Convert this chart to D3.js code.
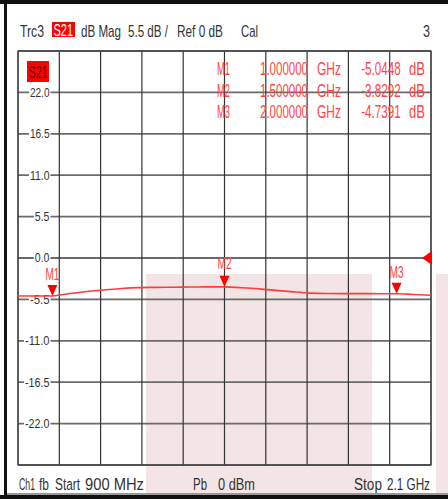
<!DOCTYPE html>
<html>
<head>
<meta charset="utf-8">
<script src="https://cdn.jsdelivr.net/npm/d3@7"></script>
<style>
  html, body { margin: 0; padding: 0; background: #fff; }
  svg { display: block; }
  text { font-family: "Liberation Sans Narrow", "Liberation Sans", Arial, sans-serif; }
</style>
</head>
<body>
<svg id="chart" width="448" height="499"></svg>
<script>
// ---- data ----
const freqGHz = [0.90, 0.95, 1.00, 1.05, 1.10, 1.15, 1.20, 1.25, 1.30, 1.35, 1.40, 1.45, 1.50,
                 1.55, 1.60, 1.65, 1.70, 1.75, 1.80, 1.85, 1.90, 1.95, 2.00, 2.05, 2.10];
const traceDb = [-5.05, -5.05, -5.04, -4.72, -4.45, -4.25, -4.05, -3.93, -3.90, -3.88, -3.86, -3.84, -3.83,
                 -3.95, -4.10, -4.30, -4.50, -4.66, -4.72, -4.73, -4.73, -4.74, -4.74, -4.85, -4.95];
const markerNames = ["M1", "M2", "M3"];
const markerFreq = [1.0, 1.5, 2.0];
const markerDb = [-5.0448, -3.8292, -4.7391];
const markerFreqLabels = ["1.000000", "1.500000", "2.000000"];
const markerDbLabels = ["-5.0448", "-3.8292", "-4.7391"];
const yTickValues = [22.0, 16.5, 11.0, 5.5, 0.0, -5.5, -11.0, -16.5, -22.0];
const yTickLabels = ["22.0", "16.5", "11.0", "5.5", "0.0", "-5.5", "-11.0", "-16.5", "-22.0"];
const xStart = 0.9, xStop = 2.1, xDivs = 10;
const yTop = 27.5, yBottom = -27.5, yDivs = 10;

// ---- drawing ----
const svg = d3.select("#chart");
const x = d3.scaleLinear().domain([xStart, xStop]).range([18, 431]);
const y = d3.scaleLinear().domain([yBottom, yTop]).range([465, 51]);

// text squeezed horizontally to a given width (condensed instrument font look)
function txt(g, xPos, yPos, s, width, opts = {}) {
  const anchor = opts.anchor || "start";
  const t = g.append("text")
    .attr("x", 0).attr("y", 0)
    .attr("font-size", opts.size || 15)
    .attr("fill", opts.fill || "#333")
    .attr("text-anchor", anchor)
    .text(s);
  let sx = 1;
  if (width) {
    const nat = t.node().getComputedTextLength();
    if (nat > 0) sx = width / nat;
  }
  t.attr("transform", `translate(${xPos},${yPos}) scale(${sx},1)`);
  return t;
}

// background
svg.append("rect").attr("width", 448).attr("height", 499).attr("fill", "#fff");

// pink overlays
svg.append("rect").attr("x", 146).attr("y", 274).attr("width", 226).attr("height", 221).attr("fill", "#f3e5e5");
svg.append("rect").attr("x", 436).attr("y", 274).attr("width", 12).attr("height", 221).attr("fill", "#f3e5e5");

// outer frame
svg.append("rect").attr("x", 0).attr("y", 0).attr("width", 448).attr("height", 4).attr("fill", "#111");
svg.append("rect").attr("x", 4).attr("y", 0).attr("width", 3).attr("height", 499).attr("fill", "#111");
svg.append("rect").attr("x", 0).attr("y", 495).attr("width", 448).attr("height", 4).attr("fill", "#111");
svg.append("rect").attr("x", 7).attr("y", 493).attr("width", 441).attr("height", 2).attr("fill", "#999");

// grid
const grid = svg.append("g");
const xTicks = d3.range(xDivs + 1).map(i => xStart + i * (xStop - xStart) / xDivs);
const yGrid = d3.range(yDivs + 1).map(i => yBottom + i * (yTop - yBottom) / yDivs);
grid.selectAll(".hg").data(yGrid).join("line")
  .attr("x1", x(xStart)).attr("x2", x(xStop))
  .attr("y1", d => y(d)).attr("y2", d => y(d))
  .attr("stroke", "#6a6a6a").attr("stroke-width", 1.8);
grid.selectAll(".vg").data(xTicks).join("line")
  .attr("x1", d => x(d)).attr("x2", d => x(d))
  .attr("y1", y(yTop)).attr("y2", y(yBottom))
  .attr("stroke", "#333").attr("stroke-width", 1.2);
grid.append("rect")
  .attr("x", x(xStart)).attr("y", y(yTop))
  .attr("width", x(xStop) - x(xStart)).attr("height", y(yBottom) - y(yTop))
  .attr("fill", "none").attr("stroke", "#444").attr("stroke-width", 1.2);

// y labels with white background
const yl = svg.append("g");
yTickValues.forEach((v, i) => {
  const lab = yTickLabels[i];
  const w = lab.length * 4.9;
  yl.append("rect").attr("x", 49.5 - w - 1).attr("y", y(v) - 6).attr("width", w + 2).attr("height", 12).attr("fill", "#fff");
  txt(yl, 49.5, y(v) + 4.3, lab, w, { size: 12, anchor: "end", fill: "#333" });
});

// S21 tag in plot
svg.append("rect").attr("x", 27).attr("y", 61).attr("width", 22).attr("height", 21).attr("fill", "#f00");
txt(svg, 38, 78, "S21", 19, { size: 16.5, anchor: "middle", fill: "#600" });

// header
const hs = 16;
txt(svg, 20, 37, "Trc3", 24, { size: hs });
svg.append("rect").attr("x", 52).attr("y", 22).attr("width", 23).attr("height", 15).attr("fill", "#f00");
txt(svg, 53.5, 36, "S21", 19.5, { size: hs, fill: "#fff" });
txt(svg, 81, 37, "dB Mag", 40, { size: hs });
txt(svg, 128, 37, "5.5 dB /", 40, { size: hs });
txt(svg, 177, 37, "Ref 0 dB", 46, { size: hs });
txt(svg, 241, 37, "Cal", 17, { size: hs });
txt(svg, 423, 37, "3", 7, { size: hs });

// marker table
const tbl = svg.append("g");
markerNames.forEach((m, i) => {
  const by = 75 + i * 21.7;
  const c = "#f44";
  txt(tbl, 217, by, m, 13, { size: 17.5, fill: c });
  txt(tbl, 260, by, markerFreqLabels[i], 48, { size: 17.5, fill: c });
  txt(tbl, 317, by, "GHz", 24, { size: 17.5, fill: c });
  txt(tbl, 400.7, by, markerDbLabels[i], markerDbLabels[i].length * 5.65, { size: 17.5, fill: c, anchor: "end" });
  txt(tbl, 409, by, "dB", 16, { size: 17.5, fill: c });
});

// trace
const line = d3.line().x((d, i) => x(freqGHz[i])).y(d => y(d)).curve(d3.curveMonotoneX);
svg.append("path").datum(traceDb).attr("d", line)
  .attr("fill", "none").attr("stroke", "#ff3b3b").attr("stroke-width", 1.6);

// reference level arrow
const ry = y(0);
svg.append("path").attr("d", `M${x(xStop) - 9},${ry} L${x(xStop) + 1},${ry - 7} L${x(xStop) + 1},${ry + 7} Z`).attr("fill", "#f00");

// markers
markerNames.forEach((m, i) => {
  const mx = x(markerFreq[i]);
  const my = y(markerDb[i]);
  svg.append("path").attr("d", `M${mx},${my} L${mx - 5},${my - 11} L${mx + 5},${my - 11} Z`).attr("fill", "#f00");
  const ly = i === 1 ? my - 17.5 : my - 15.5;
  txt(svg, mx, ly, m, 14, { size: 16.5, fill: "#f44", anchor: "middle" });
});

// footer
const fs = 16.5;
txt(svg, 19, 490, "Ch1", 16, { size: fs });
txt(svg, 39, 490, "fb", 10, { size: fs });
txt(svg, 55, 490, "Start", 25, { size: fs });
txt(svg, 85, 490, "900 MHz", 59, { size: fs });
txt(svg, 193, 490, "Pb", 14, { size: fs });
txt(svg, 218, 490, "0 dBm", 37, { size: fs });
txt(svg, 354, 490, "Stop", 28, { size: fs });
txt(svg, 387, 490, "2.1 GHz", 43, { size: fs });
</script>
</body>
</html>
